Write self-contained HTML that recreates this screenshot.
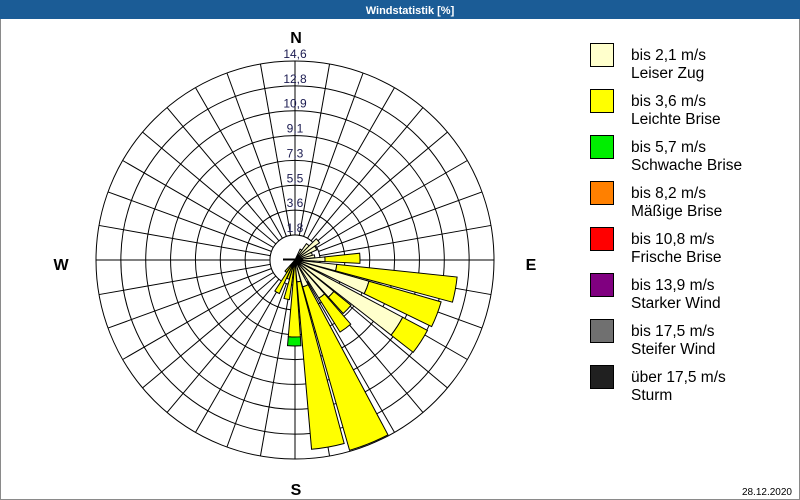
<!DOCTYPE html>
<html><head><meta charset="utf-8"><style>
body{margin:0;background:#fff;}
#w{position:relative;width:800px;height:500px;overflow:hidden;font-family:"Liberation Sans",sans-serif;}
</style></head><body><div id="w">
<svg id="s" width="800" height="500" xmlns="http://www.w3.org/2000/svg" style="position:absolute;left:0;top:0">
<rect x="0.5" y="0.5" width="799" height="499" fill="#fff" stroke="#8a8a8a"/>
<rect x="0" y="0" width="800" height="19" fill="#1b5c96"/>
<text x="410" y="14" fill="#fff" font-size="11" font-weight="bold" text-anchor="middle" font-family="Liberation Sans,sans-serif">Windstatistik [%]</text>
<g id="grid"></g>
<g id="wedges"></g>
<line x1="283" y1="259.5" x2="303" y2="259.5" stroke="#000" stroke-width="2"/>
<g id="labels" font-family="Liberation Sans,sans-serif" font-size="12" fill="#1a1a50" text-anchor="middle"></g>
<g font-family="Liberation Sans,sans-serif" font-size="16" font-weight="bold" fill="#000" text-anchor="middle">
<text x="296" y="43">N</text><text x="61" y="270">W</text><text x="531" y="270">E</text><text x="296" y="495">S</text>
</g>
<g id="legend" font-family="Liberation Sans,sans-serif" font-size="15.5" fill="#000"></g>
<text x="792" y="495" font-size="10" text-anchor="end" font-family="Liberation Sans,sans-serif">28.12.2020</text>
</svg>
<script>
var NS="http://www.w3.org/2000/svg",cx=295,cy=260;
function el(p,t,a){var e=document.createElementNS(NS,t);for(var k in a)e.setAttribute(k,a[k]);p.appendChild(e);return e;}
function pt(a,r){var t=a*Math.PI/180;return [cx+r*Math.sin(t),cy-r*Math.cos(t)];}
var g=document.getElementById("grid");
for(var a=0;a<360;a+=10){var p=pt(a,199);el(g,"line",{x1:cx,y1:cy,x2:p[0],y2:p[1],stroke:"#000","stroke-width":1});}
var labs=["1,8","3,6","5,5","7,3","9,1","10,9","12,8","14,6"];
var L=document.getElementById("labels");
for(var k=0;k<8;k++){var r=25+k*174/7;
el(g,"circle",{cx:cx,cy:cy,r:r,fill:k==0?"#fff":"none",stroke:"#000","stroke-width":1});
var t=el(L,"text",{x:cx,y:cy-r-3});t.textContent=labs[k];}
el(g,"line",{x1:cx-199,y1:cy,x2:cx+199,y2:cy,stroke:"#000"});
el(g,"line",{x1:cx,y1:cy-199,x2:cx,y2:cy+199,stroke:"#000"});
el(g,"circle",{cx:cx,cy:cy,r:25,fill:"#fff",stroke:"#000"});
var W=document.getElementById("wedges");
function sec(a1,a2,r0,r1,c){var p1=pt(a1,r0),p2=pt(a1,r1),p3=pt(a2,r1),p4=pt(a2,r0);
var d="M"+p1+"L"+p2+"A"+r1+","+r1+" 0 0 1 "+p3+"L"+p4+(r0>0?"A"+r0+","+r0+" 0 0 0 "+p1:"")+"Z";
el(W,"path",{d:d,fill:c,stroke:"#000","stroke-width":1});}
var P="#ffffcc",Y="#ffff00",G="#00ee00";
var data=[[25,35,P,12],[35,45,P,20],[45,55,P,30],[55,65,P,24],[65,75,P,18],[75,83,P,20],
[84,93,P,30,Y,65],[96,105,P,42,Y,163],[106,116,P,77,Y,152],[118,128,P,122,Y,150],
[129,138,P,50,Y,72],[139,148,P,45,Y,85],[152,164,P,28,Y,198],[165,175,P,22,Y,190],
[176,185,Y,77,G,86],[188,196,Y,40],[197,204,Y,20],[205,213,Y,37],[214,222,Y,15]];
data.forEach(function(d){var r0=0;for(var i=2;i<d.length;i+=2){sec(d[0],d[1],r0,d[i+1],d[i]);r0=d[i+1];}});
var lg=[["#ffffcc","bis 2,1 m/s","Leiser Zug"],["#ffff00","bis 3,6 m/s","Leichte Brise"],["#00ee00","bis 5,7 m/s","Schwache Brise"],["#ff8000","bis 8,2 m/s","Mäßige Brise"],["#ff0000","bis 10,8 m/s","Frische Brise"],["#800080","bis 13,9 m/s","Starker Wind"],["#707070","bis 17,5 m/s","Steifer Wind"],["#202020","über 17,5 m/s","Sturm"]];
var G2=document.getElementById("legend");
lg.forEach(function(l,i){var y=43+i*46;
el(G2,"rect",{x:590.5,y:y+0.5,width:23,height:23,fill:l[0],stroke:"#000"});
var t=el(G2,"text",{x:631,y:y+17});t.textContent=l[1];
t=el(G2,"text",{x:631,y:y+35});t.textContent=l[2];});
</script>
</div></body></html>
